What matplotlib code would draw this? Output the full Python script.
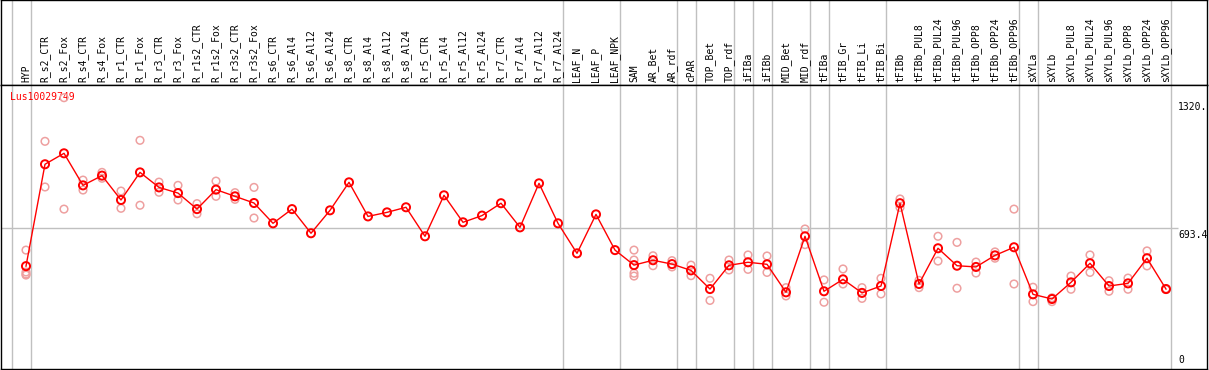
import matplotlib
matplotlib.use('Agg')
import matplotlib.pyplot as plt
import numpy as np

# ---------- data ----------
labels = ['HYP',
          'R_s2_CTR', 'R_s2_Fox', 'R_s4_CTR', 'R_s4_Fox', 'R_r1_CTR', 'R_r1_Fox',
          'R_r3_CTR', 'R_r3_Fox', 'R_r1s2_CTR', 'R_r1s2_Fox', 'R_r3s2_CTR', 'R_r3s2_Fox',
          'R_s6_CTR', 'R_s6_Al4', 'R_s6_Al12', 'R_s6_Al24',
          'R_s8_CTR', 'R_s8_Al4', 'R_s8_Al12', 'R_s8_Al24',
          'R_r5_CTR', 'R_r5_Al4', 'R_r5_Al12', 'R_r5_Al24',
          'R_r7_CTR', 'R_r7_Al4', 'R_r7_Al12', 'R_r7_Al24',
          'LEAF_N', 'LEAF_P', 'LEAF_NPK',
          'SAM', 'AR_Bet', 'AR_rdf', 'cPAR', 'TOP_Bet', 'TOP_rdf', 'iFIBa', 'iFIBb',
          'MID_Bet', 'MID_rdf', 'tFIBa', 'tFIB_Gr', 'tFIB_Li', 'tFIB_Bi', 'tFIBb',
          'tFIBb_PUL8', 'tFIBb_PUL24', 'tFIBb_PUL96', 'tFIBb_OPP8', 'tFIBb_OPP24', 'tFIBb_OPP96',
          'sXYLa', 'sXYLb',
          'sXYLb_PUL8', 'sXYLb_PUL24', 'sXYLb_PUL96', 'sXYLb_OPP8', 'sXYLb_OPP24', 'sXYLb_OPP96']

means = [507,
         1009, 1063, 905, 953, 833, 969, 895, 867, 788, 884, 851, 818,
         718, 788, 669, 782, 920, 752, 772, 797, 654, 856, 723, 756, 817, 698, 915, 718,
         570, 762, 586,
         512, 536, 517, 486, 394, 511, 526, 516, 378, 654,
         383, 442, 375, 409, 817,
         419, 595, 509, 503, 560, 600,
         368, 345,
         427, 521, 409, 422, 546, 394]

# replicate values (empty where none are shown)
reps = [[586, 478, 468, 463],
        [1122, 897], [788, 1337], [931, 882], [969, 940], [877, 792], [1127, 807],
        [921, 871], [905, 833], [815, 765], [926, 851], [869, 836], [895, 744],
        [], [], [], [], [], [], [], [], [], [], [], [], [], [], [], [],
        [], [], [],
        [586, 537, 472, 458], [558, 509], [534, 503], [512, 460], [447, 338], [537, 488],
        [562, 491], [557, 476], [401, 360], [690, 613],
        [439, 329], [493, 419], [401, 348], [447, 370], [838, 796],
        [437, 401], [654, 532], [624, 398], [527, 473], [577, 546], [788, 419],
        [403, 332], [351, 332],
        [458, 393], [562, 476], [435, 383], [448, 393], [582, 508], [396, 392]]

# group separators (after these indices)
separators = [-1, 0, 28, 31, 34, 35, 37, 38, 39, 41, 42, 45, 52, 53, 60]

gridval = 693.4
ylabels = ['1320.', '693.4', '0']
yvals = [1320, 693.4, 0]

# ---------- figure layout (pixel based) ----------
W, H = 1209, 370
fig = plt.figure(figsize=(W / 100, H / 100), dpi=100)
fig.set_facecolor('white')

px0, px1 = 1, 1207          # left / right border
head_y = 85                 # header line (px from top)
bot_y = 369                 # bottom border
step, x_first = 19, 26      # category spacing and first point

xlim = ((px0 - x_first) / step, (px1 - x_first) / step)
ymax = (bot_y - head_y) / ((bot_y - 228.3) / gridval)

axh = fig.add_axes([px0 / W, (H - head_y) / H, (px1 - px0) / W, head_y / H])
ax = fig.add_axes([px0 / W, (H - bot_y) / H, (px1 - px0) / W, (bot_y - head_y) / H])

for a in (axh, ax):
    a.set_xlim(*xlim)
    a.set_xticks([])
    a.set_yticks([])
    for s in a.spines.values():
        s.set_color('black')
        s.set_linewidth(1.0)
    for sep in separators:
        a.axvline(sep + 0.24, color='#c0c0c0', lw=1, zorder=0)

axh.set_ylim(0, 1)
ax.set_ylim(0, ymax)

mono = 'DejaVu Sans Mono'

x = np.arange(len(labels))
for i, lab in enumerate(labels):
    axh.text(i, 0.03, lab, rotation=90, ha='center', va='bottom',
             fontsize=7, family=mono, color='black')

# horizontal grid line
ax.hlines(gridval, xlim[0], (1178 - x_first) / step, color='#c0c0c0', lw=1, zorder=0)

# title
ax.text((10 - x_first) / step, 1340, 'Lus10029749', color='red', fontsize=7,
        family=mono, ha='left', va='center', zorder=1)

# replicates
rx = [i for i, r in enumerate(reps) for _ in r]
ry = [v for r in reps for v in r]
ax.scatter(rx, ry, s=30, facecolors='none', edgecolors='#eea0a0', linewidths=1.1, zorder=2)

# means
ax.plot(x, means, color='red', lw=1, zorder=3)
ax.scatter(x, means, s=34, facecolors='none', edgecolors='red', linewidths=1.4, zorder=4)

# y labels on right
lx = (1178 - x_first) / step
for lab, v in zip(ylabels, yvals):
    ax.text(lx, v + (18 if v == 0 else -6), lab, fontsize=7, family=mono,
            ha='left', va='bottom' if v == 0 else 'top', color='black')

fig.savefig('out.png', dpi=100, facecolor='white')
